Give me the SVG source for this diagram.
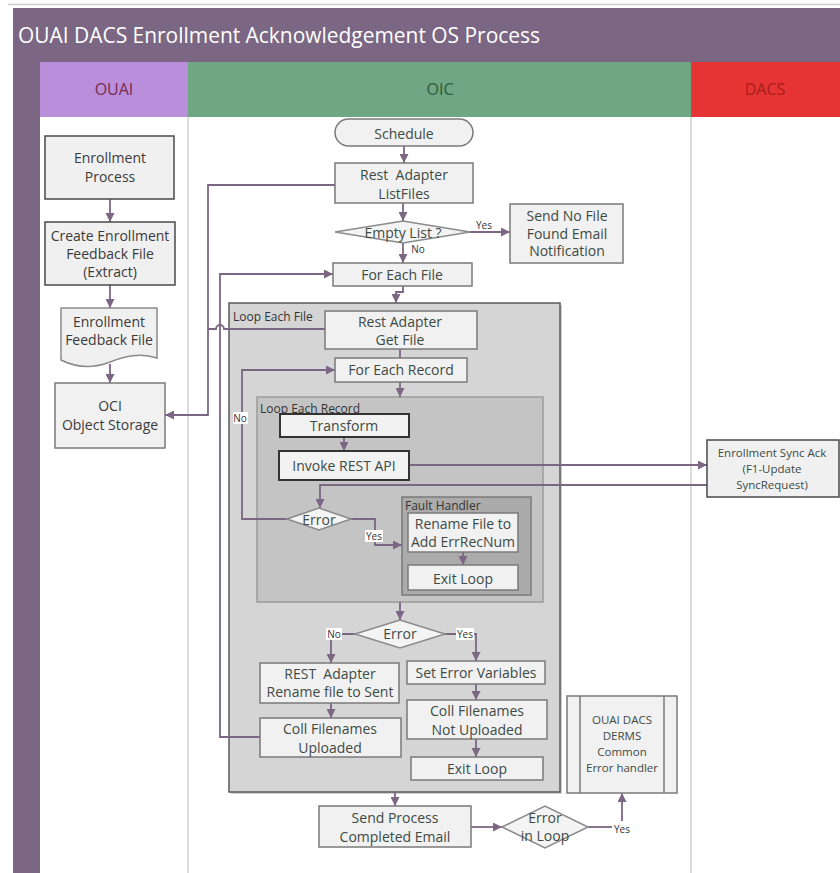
<svg xmlns="http://www.w3.org/2000/svg" width="840" height="873" viewBox="0 0 840 873">
<defs>
<marker id="ah" viewBox="0 0 10 10" refX="10" refY="5" markerWidth="9" markerHeight="9" markerUnits="userSpaceOnUse" orient="auto"><path d="M0,0 L10,5 L0,10 z" fill="#7b6683"/></marker>
<style>
.t{font-family:"Open Sans","Noto Sans",sans-serif;text-anchor:middle;dominant-baseline:central}
.ou{fill:#3a3a3a;font-size:14px}
.oc{fill:#3d4a45;font-size:14px}
.sm{font-size:11.5px}
.lbl{font-family:"Open Sans","Noto Sans",sans-serif;font-size:12px;fill:#333}
.box1{fill:#f0f0f0;stroke:#4a4a4a;stroke-width:1.5}
.box2{fill:#f1f1f1;stroke:#7a7a7a;stroke-width:1.5}
.box3{fill:#f2f2f2;stroke:#333;stroke-width:2}
.dia{fill:#f4f4f4;stroke:#8a8a8a;stroke-width:1.5}
.c{fill:none;stroke:#7b6683;stroke-width:1.8}
.a{marker-end:url(#ah)}
.yn{font-family:"Open Sans","Noto Sans",sans-serif;font-size:10px;fill:#333;text-anchor:middle;dominant-baseline:central}
</style>
</defs>
<rect x="0" y="0" width="840" height="873" fill="#ffffff"/>
<line x1="8" y1="4.5" x2="840" y2="4.5" stroke="#cccccc" stroke-width="1.5"/>
<g id="pool">
<rect x="13" y="8" width="827" height="54" fill="#7b6683"/>
<text x="18" y="35" font-family="'Open Sans','Noto Sans',sans-serif" font-size="21" fill="#ffffff" dominant-baseline="central" textLength="522" lengthAdjust="spacingAndGlyphs">OUAI DACS Enrollment Acknowledgement OS Process</text>
<rect x="13" y="62" width="27" height="811" fill="#7b6683"/>
</g>
<g id="lane-ouai">
<rect x="40" y="62" width="148" height="55" fill="#b98fdb"/>
<text class="t" x="114" y="89" font-size="16" fill="#7a2a50">OUAI</text>
</g>
<g id="lane-oic">
<rect x="188" y="62" width="503" height="55" fill="#6fa683"/>
<text class="t" x="440" y="89" font-size="16" fill="#2f5a3c">OIC</text>
</g>
<g id="lane-dacs">
<rect x="691" y="62" width="149" height="55" fill="#e63434"/>
<text class="t" x="765" y="89" font-size="16" fill="#a51d1d">DACS</text>
</g>
<line x1="188" y1="117" x2="188" y2="873" stroke="#dcdcdc" stroke-width="2"/>
<line x1="691" y1="117" x2="691" y2="873" stroke="#dcdcdc" stroke-width="2"/>

<g id="loop-each-file">
<rect x="231" y="305" width="331" height="489" fill="#888" opacity="0.4"/>
<rect x="229" y="303" width="331" height="489" fill="#d5d5d5" stroke="#5a5a5a" stroke-width="1.5"/>
<text class="lbl" x="233" y="316" dominant-baseline="central">Loop Each File</text>
</g>
<g id="loop-each-record">
<rect x="257" y="397" width="286" height="205" fill="#c4c4c4" stroke="#9a9a9a" stroke-width="1.5"/>
<text class="lbl" x="260" y="408" dominant-baseline="central">Loop Each Record</text>
</g>
<g id="fault-handler">
<rect x="402" y="497" width="129" height="98" fill="#ababab" stroke="#7a7a7a" stroke-width="1.5"/>
<text class="lbl" x="405" y="505.5" font-size="11.5" dominant-baseline="central">Fault Handler</text>
</g>

<g id="connectors">
<path class="c a" d="M110,199 V222"/>
<path class="c a" d="M110,285 V308"/>
<path class="c a" d="M110,364 V383"/>
<path class="c a" d="M335,185 H208 V415 H165"/>
<path class="c" d="M325,329 H224 A4,4 0 0 0 216,329 H208"/>
<path class="c a" d="M260,737 H220 V274 H333"/>
<path class="c a" d="M404,146 V163"/>
<path class="c a" d="M403,203 V221"/>
<path class="c a" d="M470,232 H510"/>
<path class="c a" d="M403,243 V263"/>
<path class="c a" d="M403,286 V292 H396 V303"/>
<path class="c" d="M400,349 V358"/>
<path class="c a" d="M400,382 V397"/>
<path class="c a" d="M288,519 H242 V370 H335"/>
<path class="c a" d="M344,437 V451"/>
<path class="c a" d="M409,465 H707"/>
<path class="c a" d="M707,485 H320 V508"/>
<path class="c a" d="M351,519 H375 V545 H402"/>
<path class="c a" d="M463,552 V565"/>
<path class="c a" d="M400,602 V620"/>
<path class="c a" d="M355,634 H331 V663"/>
<path class="c a" d="M445,634 H476 V661"/>
<path class="c a" d="M331,703 V718"/>
<path class="c a" d="M476,684 V700"/>
<path class="c a" d="M476,739 V757"/>
<path class="c a" d="M395,792 V806"/>
<path class="c a" d="M471,827 H502"/>
<path class="c" d="M588,827 H612"/>
<path class="c a" d="M622,821 V793"/>
<rect x="475" y="219" width="18" height="12" fill="#fff"/>
<text class="yn" x="484" y="225">Yes</text>
<rect x="410" y="243" width="17" height="12" fill="#fff"/>
<text class="yn" x="418" y="249">No</text>
<rect x="233" y="412" width="15" height="12" fill="#fff"/>
<text class="yn" x="240" y="418">No</text>
<rect x="365" y="530" width="18" height="12" fill="#fff"/>
<text class="yn" x="374" y="536">Yes</text>
<rect x="326" y="628" width="16" height="12" fill="#fff"/>
<text class="yn" x="334" y="634">No</text>
<rect x="456" y="628" width="18" height="12" fill="#fff"/>
<text class="yn" x="465" y="634">Yes</text>
<text class="yn" x="622" y="829">Yes</text>
</g>

<g id="n-enrollment-process">
<rect class="box1" x="45" y="136" width="129" height="63"/>
<text class="t ou" x="110" y="157">Enrollment</text>
<text class="t ou" x="110" y="176">Process</text>
</g>
<g id="n-create-feedback">
<rect class="box1" x="45" y="222" width="130" height="63"/>
<text class="t ou" x="110" y="235" font-size="13.5">Create Enrollment</text>
<text class="t ou" x="110" y="253" font-size="13.5">Feedback File</text>
<text class="t ou" x="110" y="271" font-size="13.5">(Extract)</text>
</g>
<g id="n-feedback-file">
<path d="M61,308 H157 V358 C140,352 124,356 110,362 C 92,369 75,367 61,360 Z" fill="#f0f0f0" stroke="#8a8a8a" stroke-width="1.5"/>
<text class="t ou" x="109" y="321" font-size="13">Enrollment</text>
<text class="t ou" x="109" y="339" font-size="13">Feedback File</text>
</g>
<g id="n-oci-storage">
<rect class="box2" x="55" y="383" width="110" height="65" fill="#f0f0f0"/>
<text class="t ou" x="110" y="405">OCI</text>
<text class="t ou" x="110" y="424">Object Storage</text>
</g>

<g id="n-schedule">
<rect class="box2" x="335" y="119" width="138" height="27" rx="13.5"/>
<text class="t oc" x="404" y="133" font-size="13">Schedule</text>
</g>
<g id="n-listfiles">
<rect class="box2" x="335" y="163" width="138" height="40"/>
<text class="t oc" x="404" y="174" xml:space="preserve">Rest  Adapter</text>
<text class="t oc" x="404" y="193" font-size="13">ListFiles</text>
</g>
<g id="n-empty-list">
<path class="dia" d="M335,232 L403,221 L470,232 L403,243 Z"/>
<text class="t oc" x="403" y="232">Empty List ?</text>
</g>
<g id="n-send-no-file">
<rect class="box2" x="510" y="204" width="113" height="59"/>
<text class="t oc" x="567" y="215.5" font-size="13">Send No File</text>
<text class="t oc" x="567" y="233" font-size="13">Found Email</text>
<text class="t oc" x="567" y="250.5" font-size="13">Notification</text>
</g>
<g id="n-for-each-file">
<rect class="box2" x="333" y="263" width="139" height="23"/>
<text class="t oc" x="402" y="274" font-size="14.5">For Each File</text>
</g>
<g id="n-get-file">
<rect class="box2" x="325" y="311" width="152" height="38"/>
<text class="t oc" x="400" y="321">Rest Adapter</text>
<text class="t oc" x="400" y="339" font-size="13">Get File</text>
</g>
<g id="n-for-each-record">
<rect class="box2" x="335" y="358" width="132" height="24"/>
<text class="t oc" x="401" y="369" font-size="14.5">For Each Record</text>
</g>
<g id="n-transform">
<rect class="box3" x="280" y="414" width="129" height="23"/>
<text class="t oc" x="344" y="425" font-size="13">Transform</text>
</g>
<g id="n-invoke-rest">
<rect class="box3" x="279" y="451" width="130" height="29"/>
<text class="t oc" x="344" y="465" font-size="13.5">Invoke REST API</text>
</g>
<g id="n-error-inner">
<path class="dia" d="M287,519 L319,508 L351,519 L319,530 Z"/>
<text class="t oc" x="319" y="519" font-size="13">Error</text>
</g>
<g id="n-rename-errrec">
<rect class="box2" x="408" y="513" width="110" height="39"/>
<text class="t oc" x="463" y="523.5" font-size="13">Rename File to</text>
<text class="t oc" x="463" y="541.5" font-size="13">Add ErrRecNum</text>
</g>
<g id="n-exit-loop-1">
<rect class="box2" x="408" y="565" width="110" height="25"/>
<text class="t oc" x="463" y="578" font-size="14.5">Exit Loop</text>
</g>
<g id="n-error-outer">
<path class="dia" d="M355,634 L400,620 L445,634 L400,648 Z"/>
<text class="t oc" x="400" y="633" font-size="13.5">Error</text>
</g>
<g id="n-rename-sent">
<rect class="box2" x="260" y="663" width="139" height="40"/>
<text class="t oc" x="330" y="673" xml:space="preserve">REST  Adapter</text>
<text class="t oc" x="330" y="691" font-size="13">Rename file to Sent</text>
</g>
<g id="n-coll-uploaded">
<rect class="box2" x="260" y="718" width="141" height="39"/>
<text class="t oc" x="330" y="728" font-size="14.5">Coll Filenames</text>
<text class="t oc" x="330" y="747" font-size="14.5">Uploaded</text>
</g>
<g id="n-set-error">
<rect class="box2" x="407" y="661" width="138" height="23"/>
<text class="t oc" x="476" y="672">Set Error Variables</text>
</g>
<g id="n-coll-not-uploaded">
<rect class="box2" x="407" y="700" width="140" height="39"/>
<text class="t oc" x="477" y="710" font-size="14.5">Coll Filenames</text>
<text class="t oc" x="477" y="729" font-size="14.5">Not Uploaded</text>
</g>
<g id="n-exit-loop-2">
<rect class="box2" x="411" y="757" width="132" height="23"/>
<text class="t oc" x="477" y="768" font-size="14.5">Exit Loop</text>
</g>
<g id="n-send-completed">
<rect class="box2" x="319" y="806" width="152" height="41"/>
<text class="t oc" x="395" y="817" font-size="14.5">Send Process</text>
<text class="t oc" x="395" y="836" font-size="14.5">Completed Email</text>
</g>
<g id="n-error-in-loop">
<path class="dia" d="M502,827 L545,806 L588,827 L545,848 Z"/>
<text class="t oc" x="545" y="817" font-size="13">Error</text>
<text class="t oc" x="545" y="835" font-size="13">in Loop</text>
</g>
<g id="n-common-error">
<rect class="box2" x="567" y="696" width="110" height="97" fill="#f3f3f3"/>
<line x1="580" y1="696" x2="580" y2="793" stroke="#7a7a7a" stroke-width="1.5"/>
<line x1="664" y1="696" x2="664" y2="793" stroke="#7a7a7a" stroke-width="1.5"/>
<text class="t oc sm" x="622" y="719">OUAI DACS</text>
<text class="t oc sm" x="622" y="735">DERMS</text>
<text class="t oc sm" x="622" y="751">Common</text>
<text class="t oc sm" x="622" y="767">Error handler</text>
</g>

<g id="n-sync-ack">
<rect class="box1" x="707" y="440" width="132" height="57"/>
<text class="t oc sm" x="772" y="452">Enrollment Sync Ack</text>
<text class="t oc sm" x="772" y="468">(F1-Update</text>
<text class="t oc sm" x="772" y="484">SyncRequest)</text>
</g>
</svg>
